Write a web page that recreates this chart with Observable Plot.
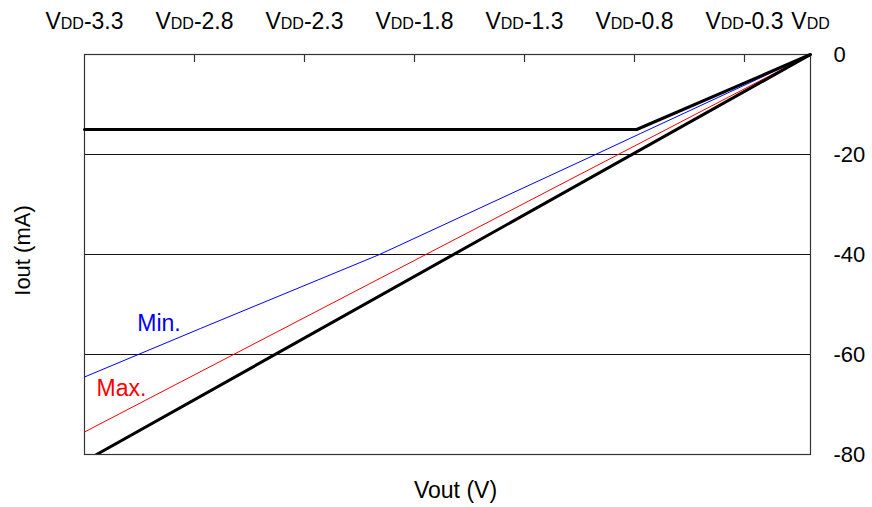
<!DOCTYPE html>
<html>
<head>
<meta charset="utf-8">
<script src="https://cdn.jsdelivr.net/npm/d3@7"></script>
<script src="https://cdn.jsdelivr.net/npm/@observablehq/plot@0.6"></script>
<style>
  html, body { margin: 0; padding: 0; background: #fff; }
  #chart { width: 872px; height: 507px; }
  svg { font-family: "Liberation Sans", Arial, Helvetica, sans-serif; }
</style>
</head>
<body>
<div id="chart"></div>
<script>
// ---- data (Vout relative to VDD in volts, Iout in mA) ----
const xTickValues = [-3.3, -2.8, -2.3, -1.8, -1.3, -0.8, -0.3, 0];
const xInnerTicks = [-2.8, -2.3, -1.8, -1.3, -0.8, -0.3];
const yTickValues = [0, -20, -40, -60, -80];
const gridValues = [-20, -40, -60];

const limitV = [-3.3, -0.79, 0];
const limitI = [-15, -15, 0];

const typV = [-3.245, 0];
const typI = [-80, 0];

const maxV = [-3.3, 0];
const maxI = [-75.5, 0];

const minV = [-3.3, -2.773, -1.959, -0.977, -0.773, 0];
const minI = [-64.5, -54.8, -40, -20, -15.8, 0];

const labelText = ["Min.", "Max."];
const labelV = [-3.06, -3.245];
const labelI = [-53.9, -66.8];
const labelColor = ["#0000ff", "#ff0000"];

const xTitle = "Vout (V)";
const yTitle = "Iout (mA)";

const toPts = (xs, ys) => xs.map((x, i) => ({x, y: ys[i]}));
const fmtX = d => d === 0 ? "VDD" : `VDD${d}`;

const chart = Plot.plot({
  width: 872,
  height: 507,
  marginTop: 54,
  marginBottom: 53,
  marginLeft: 84,
  marginRight: 62,
  x: {domain: [-3.3, 0], axis: null},
  y: {domain: [-80, 0], axis: null},
  style: {fontFamily: "'Liberation Sans', Arial, sans-serif", background: "#fff"},
  marks: [
    Plot.ruleY(gridValues, {stroke: "#111", strokeWidth: 1}),
    Plot.ruleX(xInnerTicks, {stroke: "#333", strokeWidth: 1.2, insetBottom: 392}),
    Plot.frame({stroke: "#333", strokeWidth: 1.2}),
    Plot.line(toPts(minV, minI), {x: "x", y: "y", stroke: "#0000ff", strokeWidth: 1}),
    Plot.line(toPts(maxV, maxI), {x: "x", y: "y", stroke: "#ff0000", strokeWidth: 1}),
    Plot.line(toPts(limitV, limitI), {x: "x", y: "y", stroke: "#000", strokeWidth: 3}),
    Plot.line(toPts(typV, typI), {x: "x", y: "y", stroke: "#000", strokeWidth: 3, clip: true}),
    Plot.text(labelText, {
      x: (d, i) => labelV[i], y: (d, i) => labelI[i], text: d => d,
      fill: (d, i) => labelColor[i], textAnchor: "start", fontSize: 23
    }),
    Plot.axisX(xTickValues, {
      anchor: "top", tickSize: 0, tickPadding: 26, tickFormat: fmtX,
      fontSize: 23, fill: "#000", label: null
    }),
    Plot.axisY(yTickValues, {
      anchor: "right", tickSize: 0, tickPadding: 23, fontSize: 22,
      fill: "#000", label: null, tickFormat: d => String(d)
    }),
    Plot.text([xTitle], {
      frameAnchor: "bottom", lineAnchor: "middle", textAnchor: "middle",
      dy: 36, dx: 8, text: d => d, fontSize: 23, fill: "#000"
    }),
    Plot.text([yTitle], {
      frameAnchor: "left", textAnchor: "middle", lineAnchor: "middle",
      rotate: -90, dx: -62, dy: -4, text: d => d, fontSize: 22, fill: "#000"
    })
  ]
});

document.getElementById("chart").appendChild(chart);

// Render the "DD" of VDD in smaller capitals, as in the reference.
const svgNS = "http://www.w3.org/2000/svg";
chart.querySelectorAll('g[aria-label="x-axis tick label"] text').forEach(t => {
  const s = t.textContent;
  if (!s.startsWith("VDD")) return;
  const rest = s.slice(3);
  t.textContent = "";
  const parts = [["V", null], ["DD", "16px"], [rest, null]];
  for (const [txt, fs] of parts) {
    if (!txt) continue;
    const sp = document.createElementNS(svgNS, "tspan");
    sp.textContent = txt;
    if (fs) sp.setAttribute("font-size", fs);
    t.appendChild(sp);
  }
});
</script>
</body>
</html>
